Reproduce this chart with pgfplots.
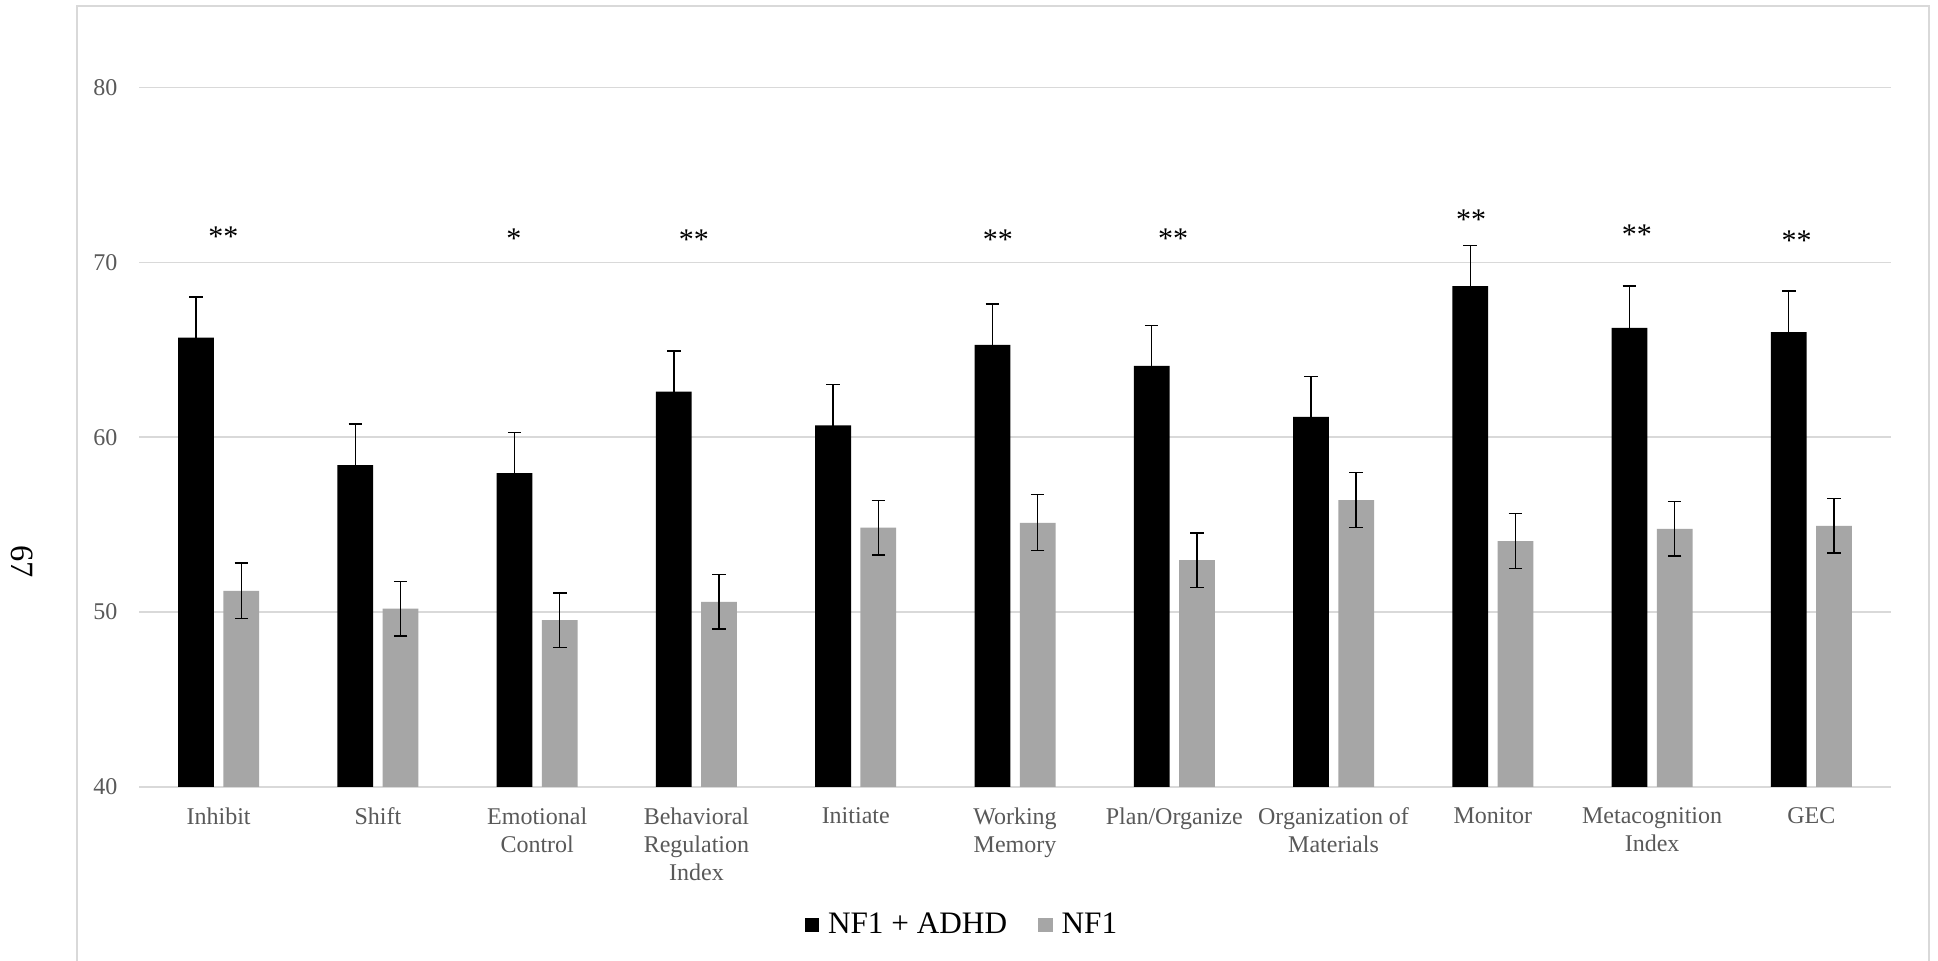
\documentclass[border=0pt]{standalone}
\usepackage{fontspec}
\setmainfont{Liberation Serif}
\usepackage{pgfplots}
\pgfplotsset{compat=1.18}
\definecolor{gridgray}{HTML}{D9D9D9}
\definecolor{tickgray}{HTML}{595959}
\definecolor{bargray}{HTML}{A6A6A6}
\definecolor{framegray}{HTML}{D9D9D9}
\begin{document}
\begin{tikzpicture}
\useasboundingbox (0pt,0pt) rectangle (775.2pt,384.4pt);
\fill[white] (0pt,0pt) rectangle (775.2pt,384.4pt);
\draw[framegray, line width=0.8pt] (30.8pt,-2pt) -- (30.8pt,382pt) -- (771.6pt,382pt) -- (771.6pt,-2pt);
\node[rotate=-90, font=\fontsize{13}{13}\selectfont, anchor=center, inner sep=0pt] at (9pt,159.6pt) {67};
\begin{axis}[
  at={(55.6pt,69.6pt)}, anchor=south west, scale only axis,
  width=700.8pt, height=279.8pt,
  xmin=-0.5, xmax=10.5, ymin=40, ymax=80,
  ybar, bar width=0.2245,
  xtick={0,1,2,3,4,5,6,7,8,9,10},
  xticklabels={Inhibit, Shift, {Emotional\\Control}, {Behavioral\\Regulation\\Index}, Initiate, {Working\\Memory}, Plan/Organize, {Organization of\\Materials}, Monitor, {Metacognition\\Index}, GEC},
  ytick={40,50,60,70,80},
  ymajorgrids, grid style={gridgray, line width=0.6pt},
  axis line style={draw=none}, major tick length=0pt,
  tick label style={font=\fontsize{9.6}{11.1}\selectfont, text=tickgray},
  yticklabel style={anchor=east, inner sep=0pt}, yticklabel shift=8.5pt,
  xticklabel style={anchor=north, align=center, inner sep=0pt}, xticklabel shift=8.2pt,
  /pgf/number format/assume math mode=true,
  clip=false,
  legend style={at={(0.4705,-0.1973)}, anchor=center, draw=none, legend columns=2,
    font=\fontsize{12.5}{14}\selectfont, text=black,
    /tikz/every odd column/.append style={column sep=1.5pt},
    /tikz/every even column/.append style={column sep=10.4pt}},
  legend image code/.code={\fill[#1] (0pt,-2.95pt) rectangle (5.9pt,2.95pt);},
]
\addplot[fill=black, draw=none, bar shift=-0.142,
  error bars/.cd, y dir=both, y explicit,
  error bar style={black, line width=0.55pt},
  error mark options={rotate=90, black, line width=0.55pt, mark size=2.7pt}]
coordinates {
(0,65.70) +- (0,2.31)
(1,58.40) +- (0,2.35)
(2,57.95) +- (0,2.31)
(3,62.61) +- (0,2.32)
(4,60.68) +- (0,2.32)
(5,65.28) +- (0,2.34)
(6,64.08) +- (0,2.32)
(7,61.17) +- (0,2.32)
(8,68.64) +- (0,2.32)
(9,66.26) +- (0,2.38)
(10,66.01) +- (0,2.35)
};
\addlegendentry{NF1 + ADHD}
\addplot[fill=bargray, draw=none, bar shift=0.142,
  error bars/.cd, y dir=both, y explicit,
  error bar style={black, line width=0.55pt},
  error mark options={rotate=90, black, line width=0.55pt, mark size=2.7pt}]
coordinates {
(0,51.22) +- (0,1.58)
(1,50.20) +- (0,1.56)
(2,49.54) +- (0,1.56)
(3,50.59) +- (0,1.56)
(4,54.83) +- (0,1.57)
(5,55.11) +- (0,1.60)
(6,52.97) +- (0,1.55)
(7,56.41) +- (0,1.57)
(8,54.06) +- (0,1.58)
(9,54.76) +- (0,1.55)
(10,54.93) +- (0,1.56)
};
\addlegendentry{NF1}
\begin{scope}[every node/.style={anchor=base, font=\fontsize{12}{12}\selectfont, inner sep=0pt}]
\node at (axis cs:0.030,70.89) {**};
\node at (axis cs:1.853,70.77) {*};
\node at (axis cs:2.983,70.73) {**};
\node at (axis cs:4.893,70.73) {**};
\node at (axis cs:5.992,70.82) {**};
\node at (axis cs:7.864,71.86) {**};
\node at (axis cs:8.905,71.00) {**};
\node at (axis cs:9.907,70.66) {**};
\end{scope}
\end{axis}
\end{tikzpicture}
\end{document}
